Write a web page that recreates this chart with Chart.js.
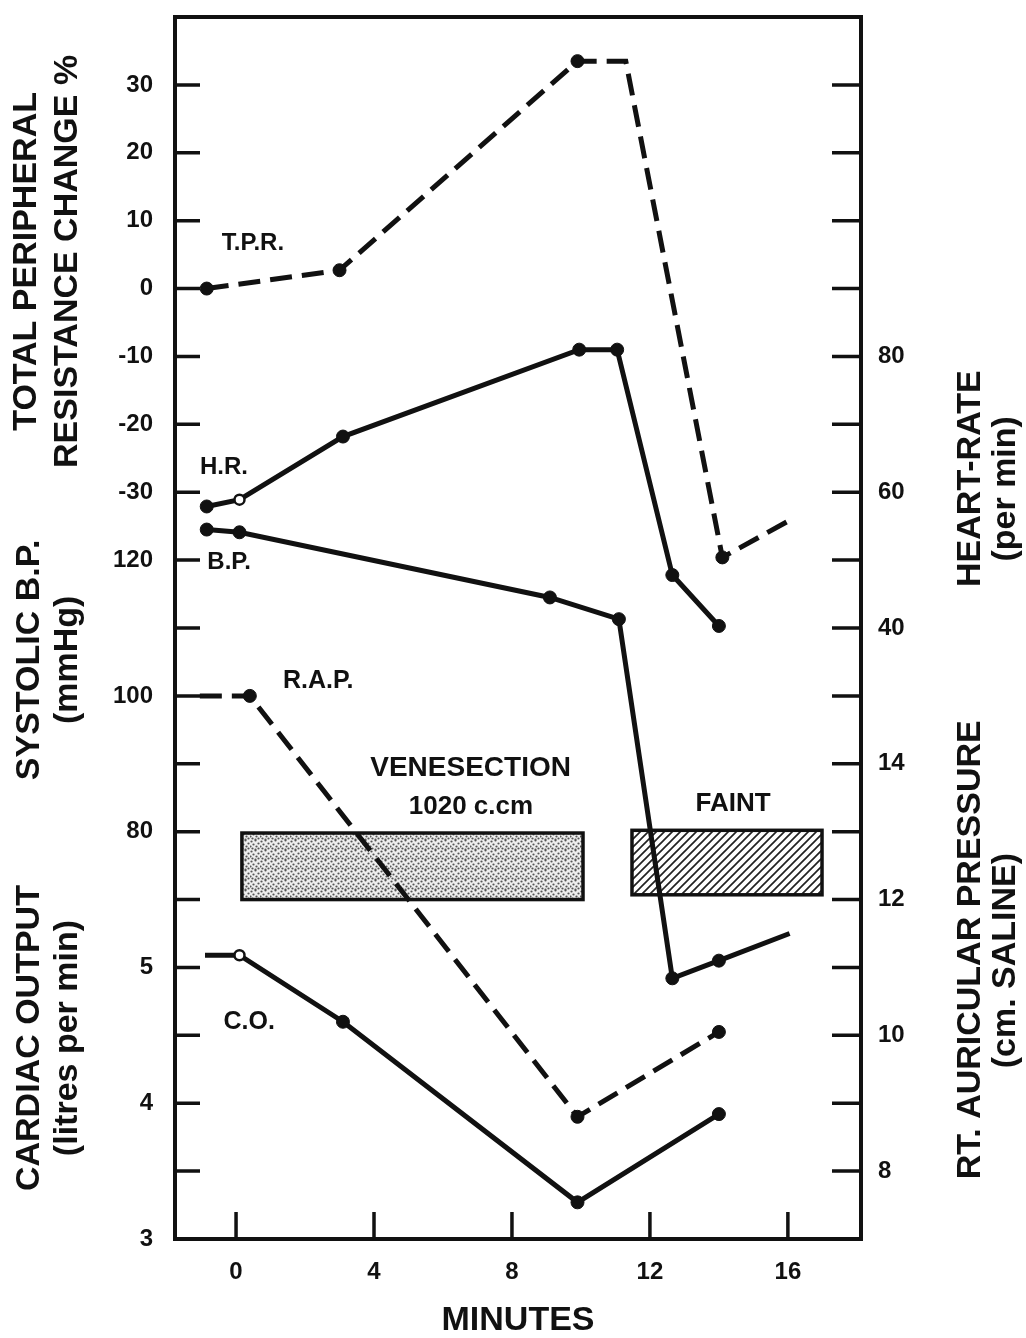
<!DOCTYPE html>
<html>
<head>
<meta charset="utf-8">
<title>Venesection and faint</title>
<script src="https://cdn.jsdelivr.net/npm/chart.js@4.4.1/dist/chart.umd.min.js"></script>
<style>
  html, body { margin: 0; padding: 0; background: #fff; }
  #wrap { position: relative; width: 1026px; height: 1338px; }
</style>
</head>
<body>
<div id="wrap"><canvas id="chart"></canvas></div>
<script>
// time in minutes, values in each series' own units
const tprMinutes = [-0.85, 3.0, 9.9, 11.3, 14.1, 16.1];
const tprChange = [0, 2.7, 33.5, 33.5, -39.6, -34];

const hrMinutes = [-0.85, 0.1, 3.1, 9.95, 11.05, 12.65, 14.0];
const heartRate = [57.9, 58.9, 68.2, 81, 81, 47.8, 40.3];

const bpMinutes = [-0.85, 0.1, 9.1, 11.1, 12.65, 14.0, 16.05];
const systolicBP = [124.5, 124.1, 114.5, 111.3, 58.4, 61, 65];

const rapMinutes = [-1.05, 0.4, 9.9, 14.0];
const rightAuricular = [15, 15, 8.8, 10.05];

const coMinutes = [-0.9, 0.1, 3.1, 9.9, 14.0];
const cardiacOutput = [5.09, 5.09, 4.6, 3.27, 3.92];

const minuteTicks = [0, 4, 8, 12, 16];
// one entry per grid step, bottom to top
const leftLabels = ['3', '', '4', '', '5', '', '80', '', '100', '', '120', '-30', '-20', '-10', '0', '10', '20', '30'];
const rightLabels = ['', '8', '', '10', '', '12', '', '14', '', '40', '', '60', '', '80', '', '', '', ''];

// shaded periods (minutes)
const venesection = [0.17, 10.06];
const faint = [11.48, 16.99];

const ink = '#111';
const family = '"Liberation Sans", Arial, Helvetica, sans-serif';
const tickFont = { family, size: 24, weight: 'bold' };

// which points get no marker / an open marker
const bare = { tpr: [3, 5], bp: [6], rap: [0], co: [0] };
const open = { hr: [1], co: [1] };

function series(key, axis, xs, ys, dash) {
  const noMark = bare[key] || [], hollow = open[key] || [];
  return {
    label: key,
    yAxisID: axis,
    data: xs.map((x, i) => ({ x, y: ys[i] })),
    borderColor: ink,
    borderWidth: 5,
    borderDash: dash || [],
    borderCapStyle: 'butt',
    tension: 0,
    fill: false,
    pointRadius: xs.map((_, i) => noMark.includes(i) ? 0 : hollow.includes(i) ? 5 : 6.5),
    pointBackgroundColor: xs.map((_, i) => hollow.includes(i) ? '#fff' : ink),
    pointBorderColor: ink,
    pointBorderWidth: xs.map((_, i) => hollow.includes(i) ? 2.5 : 1)
  };
}

function hidden(min, max) {
  return { type: 'linear', display: false, min, max };
}

// keep the frame where the layout puts it, labels may overhang
function noOverhang(s) {
  s.paddingTop = 0;
  s.paddingBottom = 0;
  s.paddingLeft = 0;
  s.paddingRight = 0;
}

function stipple(ctx) {
  const c = document.createElement('canvas');
  c.width = c.height = 10;
  const g = c.getContext('2d');
  g.fillStyle = '#eeeeee';
  g.fillRect(0, 0, 10, 10);
  g.fillStyle = '#555';
  [[1, 1], [5, 0], [8, 3], [3, 4], [0, 6], [6, 6], [2, 8], [8, 8], [5, 9]].forEach(([x, y]) => {
    g.beginPath();
    g.arc(x + 0.5, y + 0.5, 1.1, 0, Math.PI * 2);
    g.fill();
  });
  return ctx.createPattern(c, 'repeat');
}

function hatch(ctx) {
  const c = document.createElement('canvas');
  c.width = c.height = 8;
  const g = c.getContext('2d');
  g.fillStyle = '#fff';
  g.fillRect(0, 0, 8, 8);
  g.strokeStyle = '#222';
  g.lineWidth = 1.7;
  g.beginPath();
  g.moveTo(-1, 9); g.lineTo(9, -1);
  g.moveTo(-1, 1); g.lineTo(1, -1);
  g.moveTo(7, 9); g.lineTo(9, 7);
  g.stroke();
  return ctx.createPattern(c, 'repeat');
}

// text placed in minutes / grid steps
const notes = [
  { text: 'T.P.R.', x: 0.49, g: 14.67, size: 24 },
  { text: 'H.R.', x: -0.35, g: 11.37, size: 24 },
  { text: 'B.P.', x: -0.2, g: 9.96, size: 24 },
  { text: 'R.A.P.', x: 2.38, g: 8.22, size: 25 },
  { text: 'C.O.', x: 0.38, g: 3.2, size: 25 },
  { text: 'VENESECTION', x: 6.8, g: 6.94, size: 28 },
  { text: '1020 c.cm', x: 6.81, g: 6.36, size: 26 },
  { text: 'FAINT', x: 14.41, g: 6.41, size: 26 }
];

// rotated axis titles: [text, canvas x, grid step of centre]
const sideTitles = [
  ['TOTAL PERIPHERAL', 27, 14.4],
  ['RESISTANCE CHANGE %', 68, 14.4],
  ['SYSTOLIC B.P.', 30, 8.53],
  ['(mmHg)', 68, 8.53],
  ['CARDIAC OUTPUT', 30, 2.96],
  ['(litres per min)', 68, 2.96],
  ['HEART-RATE', 971, 11.2],
  ['(per min)', 1006, 11.05],
  ['RT. AURICULAR PRESSURE', 971, 4.26],
  ['(cm. SALINE)', 1006, 4.1]
];

const decor = {
  id: 'decor',
  beforeDatasetsDraw(chart) {
    const { ctx, scales: { x, yL } } = chart;
    const boxes = [
      { span: venesection, top: 5.98, bottom: 5.0, fill: stipple(ctx) },
      { span: faint, top: 6.02, bottom: 5.07, fill: hatch(ctx) }
    ];
    boxes.forEach(b => {
      const l = x.getPixelForValue(b.span[0]);
      const r = x.getPixelForValue(b.span[1]);
      const t = yL.getPixelForValue(b.top);
      const btm = yL.getPixelForValue(b.bottom);
      ctx.save();
      ctx.fillStyle = b.fill;
      ctx.fillRect(l, t, r - l, btm - t);
      ctx.lineWidth = 3.5;
      ctx.strokeStyle = ink;
      ctx.strokeRect(l, t, r - l, btm - t);
      ctx.restore();
    });
  },
  afterDraw(chart) {
    const { ctx, chartArea: a, scales: { x, yL, yR } } = chart;
    ctx.save();
    ctx.strokeStyle = ink;
    ctx.lineWidth = 4;
    ctx.strokeRect(a.left, a.top, a.right - a.left, a.bottom - a.top);

    // inward tick marks
    ctx.lineWidth = 3.5;
    ctx.beginPath();
    yL.ticks.forEach(t => {
      const py = yL.getPixelForValue(t.value);
      ctx.moveTo(a.left, py); ctx.lineTo(a.left + 25, py);
    });
    yR.ticks.forEach(t => {
      const py = yR.getPixelForValue(t.value);
      ctx.moveTo(a.right, py); ctx.lineTo(a.right - 29, py);
    });
    x.ticks.forEach(t => {
      const px = x.getPixelForValue(t.value);
      ctx.moveTo(px, a.bottom); ctx.lineTo(px, a.bottom - 27);
    });
    ctx.stroke();

    ctx.fillStyle = ink;
    ctx.textAlign = 'center';
    ctx.textBaseline = 'middle';
    notes.forEach(n => {
      ctx.font = `bold ${n.size}px ${family}`;
      ctx.fillText(n.text, x.getPixelForValue(n.x), yL.getPixelForValue(n.g));
    });

    ctx.font = `bold 34px ${family}`;
    sideTitles.forEach(([text, px, g]) => {
      ctx.save();
      ctx.translate(px, yL.getPixelForValue(g));
      ctx.rotate(-Math.PI / 2);
      ctx.fillText(text, 0, 0);
      ctx.restore();
    });
    ctx.restore();
  }
};

new Chart(document.getElementById('chart'), {
  type: 'line',
  data: {
    datasets: [
      series('tpr', 'yTPR', tprMinutes, tprChange, [22, 10]),
      series('hr', 'yHR', hrMinutes, heartRate),
      series('bp', 'yBP', bpMinutes, systolicBP),
      series('rap', 'yRAP', rapMinutes, rightAuricular, [22, 10]),
      series('co', 'yCO', coMinutes, cardiacOutput)
    ]
  },
  options: {
    responsive: true,
    maintainAspectRatio: false,
    animation: false,
    events: [],
    layout: { padding: { top: 17, left: 0, right: 0, bottom: 0 } },
    plugins: { legend: { display: false }, tooltip: { enabled: false } },
    scales: {
      x: {
        type: 'linear',
        position: 'bottom',
        min: -1.77,
        max: 18.12,
        afterBuildTicks: s => { s.ticks = minuteTicks.map(v => ({ value: v })); },
        afterFit: s => { s.height = 99; noOverhang(s); },
        grid: { display: false, drawTicks: false },
        border: { display: false },
        ticks: { color: ink, font: tickFont, padding: 19, maxRotation: 0, autoSkip: false },
        title: {
          display: true,
          text: 'MINUTES',
          color: ink,
          font: { family, size: 34, weight: 'bold', lineHeight: 1 },
          padding: 0
        }
      },
      yL: {
        type: 'linear',
        position: 'left',
        min: 0,
        max: 18,
        afterBuildTicks: s => { s.ticks = leftLabels.map((_, g) => ({ value: g })); },
        afterFit: s => { s.width = 175; noOverhang(s); },
        grid: { display: false, drawTicks: false },
        border: { display: false },
        ticks: { color: ink, font: tickFont, padding: 22, autoSkip: false, callback: v => leftLabels[v] }
      },
      yR: {
        type: 'linear',
        position: 'right',
        min: 0,
        max: 18,
        afterBuildTicks: s => { s.ticks = rightLabels.map((_, g) => ({ value: g })); },
        afterFit: s => { s.width = 165; noOverhang(s); },
        grid: { display: false, drawTicks: false },
        border: { display: false },
        ticks: { color: ink, font: tickFont, padding: 17, autoSkip: false, callback: v => rightLabels[v] }
      },
      yTPR: hidden(-140, 40),
      yBP: hidden(20, 200),
      yCO: hidden(3, 12),
      yHR: hidden(-50, 130),
      yRAP: hidden(7, 25)
    }
  },
  plugins: [decor]
});
</script>
</body>
</html>
